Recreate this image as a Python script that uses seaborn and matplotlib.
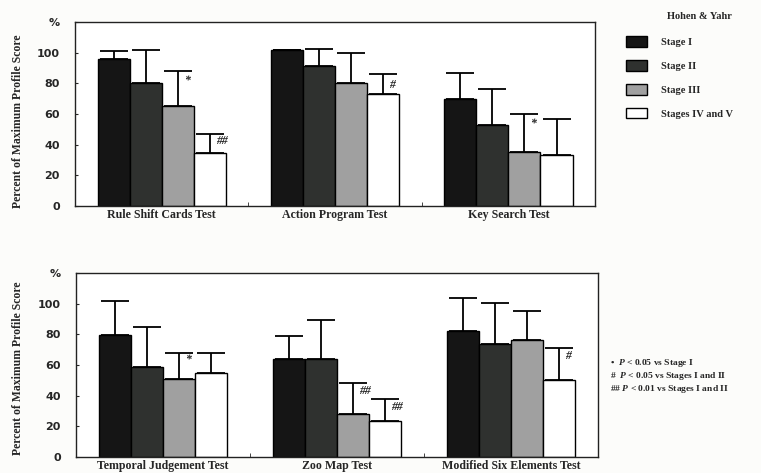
import matplotlib
matplotlib.use('Agg')
import matplotlib.pyplot as plt
import pandas as pd
import seaborn as sns

# values (percent of maximum profile score)
stages = ["Stage I", "Stage II", "Stage III", "Stages IV and V"]
stage_colors = ["#151515", "#2f312f", "#a0a0a0", "#ffffff"]

tests_top = ["Rule Shift Cards Test", "Action Program Test", "Key Search Test"]
top_means = [[96, 102, 70], [80, 91.5, 53], [65, 80, 35.5], [34.5, 73, 33]]
top_upper = [[101, 102, 86.5], [101.5, 102.5, 76], [88, 99.5, 60], [47, 86, 57]]
# (test index, stage index, mark, y)
top_marks = [(0, 2, "*", 82), (0, 3, "##", 42.5), (1, 3, "#", 79), (2, 2, "*", 54)]

tests_bottom = ["Temporal Judgement Test", "Zoo Map Test", "Modified Six Elements Test"]
bottom_means = [[79.5, 64, 82], [58.5, 64, 74], [51, 28, 76], [55, 23.5, 50]]
bottom_upper = [[101.5, 79, 104], [84.5, 89.5, 100.5], [67.5, 48, 95], [68, 38, 71]]
bottom_marks = [(0, 2, "*", 63.5), (1, 2, "##", 43), (1, 3, "##", 32.5), (2, 3, "#", 66)]

ytick_vals = [0, 20, 40, 60, 80, 100, 120]
ytick_labels = ["0", "20", "40", "60", "80", "100", "%"]

notes = ["•  $P$ < 0.05 vs Stage I",
         "#  $P$ < 0.05 vs Stages I and II",
         "## $P$ < 0.01 vs Stages I and II"]

sns.set_style("white")
plt.rcParams['font.family'] = ['Liberation Serif', 'DejaVu Serif']
plt.rcParams['font.weight'] = 'bold'
plt.rcParams['mathtext.fontset'] = 'custom'
plt.rcParams['mathtext.it'] = 'Liberation Serif:italic:bold'
plt.rcParams['mathtext.rm'] = 'Liberation Serif:bold'

fig = plt.figure(figsize=(7.61, 4.73), dpi=100)
fig.patch.set_facecolor('#fcfcfa')
ax_top = fig.add_axes([0.0986, 0.5645, 0.6834, 0.389])
ax_bot = fig.add_axes([0.0999, 0.034, 0.6859, 0.3888])


def draw_panel(ax, tests, means, upper, marks, label_y):
    rows = []
    for s, stage in enumerate(stages):
        for t, test in enumerate(tests):
            rows.append({"test": test, "stage": stage, "value": means[s][t]})
    df = pd.DataFrame(rows)
    sns.barplot(data=df, x="test", y="value", hue="stage", order=tests,
                hue_order=stages, palette=stage_colors, width=0.74,
                edgecolor="black", linewidth=1.0, errorbar=None,
                saturation=1, legend=False, ax=ax)
    bar_sets = list(ax.containers)
    centers = {}
    for s, cont in enumerate(bar_sets):
        for t, bar in enumerate(cont.patches):
            xc = bar.get_x() + bar.get_width() / 2
            centers[(t, s)] = xc
            top = bar.get_height()
            ax.errorbar(xc, top, yerr=[[0], [upper[s][t] - top]], fmt="none",
                        ecolor="black", elinewidth=1.3, capsize=10, capthick=1.3,
                        zorder=1)
    for t, s, mark, y in marks:
        ax.text(centers[(t, s)] + 0.035, y, mark, fontsize=8.5, fontweight="bold",
                ha="left", va="center", fontstyle="italic")
    ax.set_xlim(-0.5, 2.5)
    ax.set_ylim(0, 120)
    ax.set_yticks(ytick_vals)
    ax.set_yticklabels(ytick_labels, family="DejaVu Sans", fontweight="bold",
                       fontsize=8)
    ax.tick_params(axis="y", direction="in", length=2.5, width=0.8, pad=11,
                   left=True)
    ax.tick_params(axis="x", length=0, pad=2, labelsize=8.6)
    ax.set_xticks([0.5, 1.5], minor=True)
    ax.tick_params(axis="x", which="minor", direction="in", length=3, bottom=True)
    for lab in ax.get_xticklabels():
        lab.set_fontweight("bold")
    for sp in ax.spines.values():
        sp.set_visible(True)
        sp.set_color("#222222")
        sp.set_linewidth(1.0)
    ax.set_facecolor("white")
    ax.set_xlabel("")
    ax.set_ylabel("Percent of Maximum Profile Score", fontsize=8.5,
                  fontweight="bold")
    ax.yaxis.set_label_coords(-0.099, label_y)


draw_panel(ax_top, tests_top, top_means, top_upper, top_marks, 0.46)
draw_panel(ax_bot, tests_bottom, bottom_means, bottom_upper, bottom_marks, 0.48)

handles = [cont.patches[0] for cont in ax_top.containers[:4]]
leg = fig.legend(handles, stages, title="Hohen & Yahr", loc="upper left",
                 bbox_to_anchor=(0.81, 0.99), frameon=False, fontsize=7.5,
                 title_fontproperties={"weight": "bold", "size": 7.5,
                                       "family": "Liberation Serif"},
                 handlelength=2.0, handleheight=1.2, labelspacing=1.25,
                 handletextpad=1.4)
leg.get_title().set_position((20, 2))

for i, line in enumerate(notes):
    fig.text(0.802, 0.232 - i * 0.027, line, fontsize=6.8, fontweight="bold",
             ha="left", va="center")

fig.savefig("out.png", dpi=100, facecolor=fig.get_facecolor())
